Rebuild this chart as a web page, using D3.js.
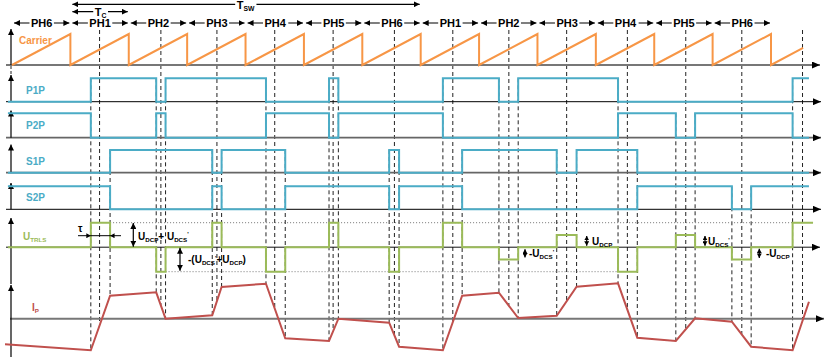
<!DOCTYPE html>
<html><head><meta charset="utf-8">
<script src="https://cdn.jsdelivr.net/npm/d3@7"></script>
<style>
body{margin:0;background:#fff}
svg{display:block}
text{font-family:"Liberation Sans",Arial,Helvetica,sans-serif;font-weight:bold}
</style>
</head><body>
<svg id="c" width="832" height="361"></svg>
<script>
// ---------------- data (time in carrier periods Tc) ----------------
const phaseLabels = ["PH6","PH1","PH2","PH3","PH4","PH5","PH6","PH1","PH2","PH3","PH4","PH5","PH6"];
const carrierT = [0,1,1,2,2,3,3,4,4,5,5,6,6,7,7,8,8,9,9,10,10,11,11,12,12,13,13,13.55];
const carrierV = [0,1,0,1,0,1,0,1,0,1,0,1,0,1,0,1,0,1,0,1,0,1,0,1,0,1,0,0.55];
const midT = [1.5,2.55,3.51,4.5,5.5,6.55,7.55,8.51,9.5,10.54,11.54,12.5,13.54];

const p1pT = [-0.07,1.35,2.47,2.63,4.35,5.43,5.59,7.38,8.34,8.67,10.38,13.37,13.65];
const p1pV = [0,1,0,1,0,1,0,1,0,1,0,1,1];
const p2pT = [-0.07,1.35,2.47,2.63,4.35,5.43,5.59,7.38,10.38,11.37,11.70,13.37,13.65];
const p2pV = [1,0,1,0,1,0,1,0,1,0,1,0,0];
const s1pT = [-0.07,1.68,3.43,3.59,4.68,6.46,6.63,7.71,9.33,9.67,10.71,13.65];
const s1pV = [0,1,0,1,0,1,0,1,0,1,0,0];
const s2pT = [-0.07,1.68,3.43,3.59,4.68,6.46,6.63,7.71,10.71,12.33,12.66,13.65];
const s2pV = [1,0,1,0,1,0,1,0,1,0,1,1];

const utrlsT = [-0.07,1.35,1.68,2.47,2.63,3.43,3.59,4.35,4.68,5.43,5.59,6.46,6.63,7.38,7.71,8.34,8.67,9.33,9.67,10.38,10.71,11.37,11.70,12.33,12.66,13.37,13.72];
const utrlsV = [0,1,0,-1,0,1,0,-1,0,1,0,-1,0,1,0,-0.5,0,0.5,0,-1,0,0.5,0,-0.5,0,1,1];

const ipT = [-0.12,1.35,1.68,2.47,2.63,3.43,3.59,4.35,4.68,5.43,5.59,6.46,6.63,7.38,7.71,8.34,8.67,9.33,9.67,10.38,10.71,11.37,11.70,12.33,12.66,13.37,13.65];
const ipV = [-25.6,-31.6,23,26.4,0,3.4,31.7,35,-19.6,-22.3,0,-4,-28,-31.6,23,26,0.7,3,32,35.4,-19,-22.3,0.4,-3,-28,-31.6,17];

// ---------------- drawing ----------------
const svg = d3.select("#c");
const W = 832;
const x = d3.scaleLinear().domain([0,13]).range([12,771]);
const yCar = d3.scaleLinear().domain([0,1]).range([65,34]);
const panels = [
  {name:"P1P", T:p1pT, V:p1pV, y:d3.scaleLinear().domain([0,1]).range([101.7,78.3]), axisTop:75,  axisCol:"#000", axisW:1},
  {name:"P2P", T:p2pT, V:p2pV, y:d3.scaleLinear().domain([0,1]).range([137.7,113.3]), axisTop:110.5, axisCol:"#666", axisW:1.8},
  {name:"S1P", T:s1pT, V:s1pV, y:d3.scaleLinear().domain([0,1]).range([172.7,150]), axisTop:144.5, axisCol:"#666", axisW:1.8},
  {name:"S2P", T:s2pT, V:s2pV, y:d3.scaleLinear().domain([0,1]).range([209.3,186.3]), axisTop:183, axisCol:"#000", axisW:1}
];
const yU = d3.scaleLinear().domain([-1,1]).range([271.7,222.7]);
const yI = d3.scaleLinear().domain([-40,40]).range([358.7,278.7]);
const ipAt = d3.scaleLinear().domain(ipT).range(ipV);

const CAR="#f79646", CYAN="#4bacc6", GREEN="#9bbb59", RED="#c0504d";

const defs = svg.append("defs");
function marker(id, L, H, col){
  defs.append("marker").attr("id",id).attr("markerUnits","userSpaceOnUse")
    .attr("markerWidth",L).attr("markerHeight",2*H).attr("refX",L).attr("refY",H)
    .attr("orient","auto-start-reverse")
    .append("path").attr("d",`M0,0L${L},${H}L0,${2*H}Z`).attr("fill",col);
}
marker("ah",8,3.5,"#000");
marker("ahs",6,3,"#000");
marker("aht",4.5,2.5,"#000");

function richText(g, px, py, segs, size, color, anchor){
  const t = g.append("text").attr("x",px).attr("y",py).attr("font-size",size)
    .attr("fill",color).attr("text-anchor",anchor||"start");
  let cur = 0;
  segs.forEach(s=>{
    const off = s.sub ? 2 : (s.sup ? -3.5 : 0);
    const sp = t.append("tspan").text(s.t).attr("dy", off-cur)
      .attr("font-size", (s.sub||s.sup) ? size*0.62 : size);
    cur = off;
  });
  return t;
}

// ---- dashed vertical guide lines ----
const gDash = svg.append("g").attr("stroke","#222").attr("stroke-width",1).attr("stroke-dasharray","4,3");
midT.forEach(t=>{
  gDash.append("line").attr("x1",x(t)).attr("x2",x(t)).attr("y1",30).attr("y2",yI(ipAt(t)));
});
const trans = new Map();
panels.forEach(p=>{
  p.T.slice(1,-1).forEach(t=>{ if(!trans.has(t)) trans.set(t, p.y(1)); });
});
trans.forEach((yTop,t)=>{
  gDash.append("line").attr("x1",x(t)).attr("x2",x(t)).attr("y1",yTop).attr("y2",yI(ipAt(t)));
});

// ---- UTRLS dotted level lines ----
const gDot = svg.append("g").attr("stroke","#777").attr("stroke-width",1).attr("stroke-dasharray","1,2");
gDot.append("line").attr("x1",x(1.68)).attr("x2",x(13.37)).attr("y1",yU(1)).attr("y2",yU(1));
gDot.append("line").attr("x1",x(2.63)).attr("x2",x(10.38)).attr("y1",yU(-1)).attr("y2",yU(-1));

// ---- axes ----
const gAx = svg.append("g");
function hAxis(y, col, w, x1, x2){
  gAx.append("line").attr("x1",x1).attr("x2",x2).attr("y1",y).attr("y2",y)
    .attr("stroke",col).attr("stroke-width",w).attr("marker-end","url(#ah)");
}
function vAxis(y1, y2){
  gAx.append("line").attr("x1",11).attr("x2",11).attr("y1",y1).attr("y2",y2)
    .attr("stroke","#000").attr("stroke-width",1.2).attr("marker-end","url(#ahs)");
}
hAxis(yCar(0), "#777", 2, 6, 820);
vAxis(yCar(0), 29);
panels.forEach(p=>{ hAxis(p.y(0), p.axisCol, p.axisW, 6, 821); vAxis(p.y(0), p.axisTop); });
hAxis(yU(0), "#111", 1, 6, 820);
vAxis(284, 218);
hAxis(yI(0), "#777", 2, 10, 824);
vAxis(357, 285);
gAx.append("line").attr("x1",11).attr("x2",11).attr("y1",66).attr("y2",75).attr("stroke","#222").attr("stroke-dasharray","3,2");

// ---- carrier ----
svg.append("path").attr("fill","none").attr("stroke",CAR).attr("stroke-width",2)
  .attr("d", d3.line().x((d,i)=>x(carrierT[i])).y((d,i)=>yCar(carrierV[i]))(carrierT));

// ---- gate signals ----
const step = d3.line().curve(d3.curveStepAfter);
panels.forEach(p=>{
  svg.append("path").attr("fill","none").attr("stroke",CYAN).attr("stroke-width",2)
    .attr("d", step(p.T.map((t,i)=>[x(t), p.y(p.V[i])])));
});
svg.append("path").attr("fill","none").attr("stroke",GREEN).attr("stroke-width",2)
  .attr("d", step(utrlsT.map((t,i)=>[x(t), yU(utrlsV[i])])));
svg.append("path").attr("fill","none").attr("stroke",RED).attr("stroke-width",2)
  .attr("d", d3.line()(ipT.map((t,i)=>[x(t), yI(ipV[i])])));

// ---- top arrows ----
const gTop = svg.append("g");
function dblArrow(x1, x2, y, mk){
  gTop.append("line").attr("x1",x1).attr("x2",x2).attr("y1",y).attr("y2",y)
    .attr("stroke","#000").attr("stroke-width",1.2)
    .attr("marker-start",`url(#${mk})`).attr("marker-end",`url(#${mk})`);
}
function labelBg(t){
  const b = t.node().getBBox();
  gTop.insert("rect", () => t.node()).attr("x",b.x-1.5).attr("y",b.y).attr("width",b.width+3).attr("height",b.height).attr("fill","#fff");
}
phaseLabels.forEach((lab,k)=>{
  dblArrow(x(k)+2, x(k+1)-1, 23, "ahs");
  const t = gTop.append("text").attr("x",x(k+0.5)+0.5).attr("y",27).attr("font-size",11)
    .attr("text-anchor","middle").attr("fill","#000").text(lab);
  labelBg(t);
});
dblArrow(x(1)+2, x(2)-1, 11.7, "ahs");
labelBg(richText(gTop, x(1.5)+1, 15.5, [{t:"T"},{t:"C",sub:true}], 11, "#000", "middle"));
dblArrow(x(1)+2, x(7)-1, 4.3, "ahs");
labelBg(richText(gTop, x(4), 8.5, [{t:"T"},{t:"SW",sub:true}], 11, "#000", "middle"));

// ---- signal labels ----
const gL = svg.append("g");
gL.append("text").attr("x",19).attr("y",44).attr("font-size",10).attr("fill",CAR).text("Carrier");
panels.forEach(p=>{
  gL.append("text").attr("x",26).attr("y",(p.y(0)+p.y(1))/2+3.5).attr("font-size",10).attr("fill",CYAN).text(p.name);
});
richText(gL, 23, 240, [{t:"U"},{t:"TRLS",sub:true}], 10, GREEN);
richText(gL, 32, 311, [{t:"I"},{t:"P",sub:true}], 10, RED);

// ---- UTRLS annotations ----
const gA = svg.append("g");
// tau
gA.append("line").attr("x1",78).attr("x2",x(1.35)).attr("y1",235.7).attr("y2",235.7).attr("stroke","#000").attr("stroke-width",1).attr("marker-end","url(#aht)");
gA.append("line").attr("x1",x(1.35)).attr("x2",x(1.68)).attr("y1",235.7).attr("y2",235.7).attr("stroke","#000").attr("stroke-width",1);
gA.append("line").attr("x1",121).attr("x2",x(1.68)).attr("y1",235.7).attr("y2",235.7).attr("stroke","#000").attr("stroke-width",1).attr("marker-end","url(#aht)");
gA.append("text").attr("x",78).attr("y",232).attr("font-size",10).attr("fill","#000").text("τ");

function vDbl(px, v1, v2, mk){
  gA.append("line").attr("x1",px).attr("x2",px).attr("y1",yU(v1)).attr("y2",yU(v2))
    .attr("stroke","#000").attr("stroke-width",1.2)
    .attr("marker-start",`url(#${mk})`).attr("marker-end",`url(#${mk})`);
}
vDbl(133.3, 0.99, 0.02, "ahs");
richText(gA, 138, 239.5, [{t:"U"},{t:"DCP",sub:true},{t:"+ U"},{t:"DCS",sub:true},{t:"'",sup:true}], 10, "#000");
vDbl(180, -0.02, -0.96, "ahs");
richText(gA, 188, 263, [{t:"-(U"},{t:"DCS",sub:true},{t:"'",sup:true},{t:"+U"},{t:"DCP",sub:true},{t:")"}], 10, "#000");
vDbl(525, -0.08, -0.42, "aht");
richText(gA, 529, 257, [{t:"-U"},{t:"DCS",sub:true},{t:"'",sup:true}], 10, "#000");
vDbl(586.7, 0.46, 0.06, "aht");
richText(gA, 592, 245, [{t:"U"},{t:"DCP",sub:true}], 10, "#000");
vDbl(705, 0.46, 0.06, "aht");
richText(gA, 708, 245, [{t:"U"},{t:"DCS",sub:true},{t:"'",sup:true}], 10, "#000");
vDbl(759.3, -0.06, -0.44, "aht");
richText(gA, 766, 257, [{t:"-U"},{t:"DCP",sub:true}], 10, "#000");
</script>
</body></html>
